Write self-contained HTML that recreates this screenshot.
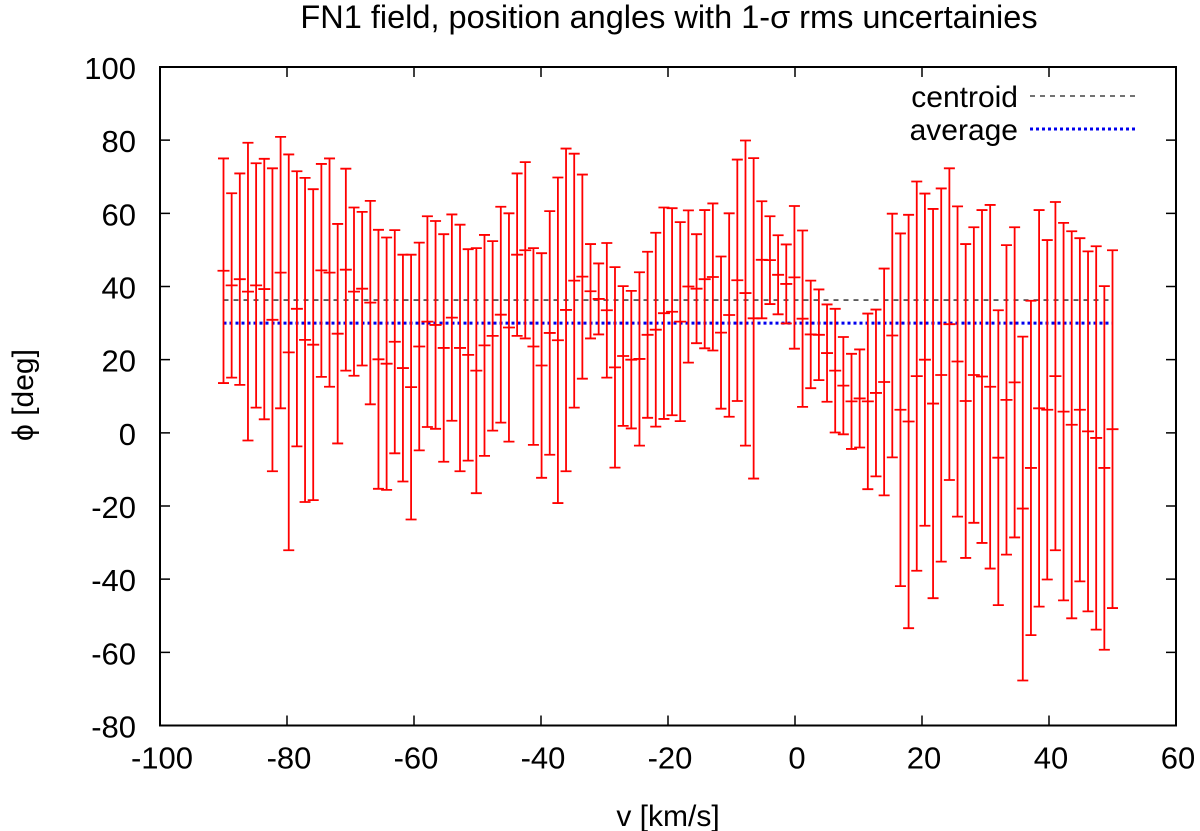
<!DOCTYPE html>
<html><head><meta charset="utf-8">
<style>
html,body{margin:0;padding:0;background:#fff;}
svg{display:block;font-family:"Liberation Sans",sans-serif;}
</style></head>
<body>
<svg id="chart" width="1200" height="831" viewBox="0 0 1200 831" xmlns="http://www.w3.org/2000/svg">
<text x="669" y="28" font-size="32.5" text-anchor="middle">FN1 field, position angles with 1-σ rms uncertainies</text>
<text x="668" y="826" font-size="30" text-anchor="middle">v [km/s]</text>
<text transform="translate(33,395) rotate(-90)" font-size="30" text-anchor="middle">ϕ [deg]</text>
<g id="axes"></g>
<g id="refs"></g>
<g id="bars"></g>
<g id="legend">
<text x="1018" y="107" font-size="30" text-anchor="end">centroid</text>
<line x1="1030" y1="96" x2="1137" y2="96" stroke="#444" stroke-width="1.6" stroke-dasharray="5,5"/>
<text x="1018" y="140" font-size="30" text-anchor="end">average</text>
<line x1="1030" y1="129" x2="1137" y2="129" stroke="#0000ee" stroke-width="3" stroke-dasharray="3,3"/>
</g>
</svg>
<script>
const xTicks = [-100,-80,-60,-40,-20,0,20,40,60];
const yTicks = [100,80,60,40,20,0,-20,-40,-60,-80];
const vStart = -90, vEnd = 50;
const phi = [44.3,40.3,42.0,38.6,40.3,39.3,30.9,43.8,22.0,33.9,25.4,24.1,44.4,43.8,27.1,44.6,38.6,39.4,35.6,20.1,18.9,24.9,17.7,12.5,23.6,30.4,29.5,
23.2,31.5,23.2,21.3,17.0,23.9,26.5,32.3,28.8,48.7,49.9,23.6,18.4,27.3,25.3,33.6,41.6,42.7,38.7,36.6,33.5,17.9,21.0,20.0,20.2,26.8,28.2,
32.7,33.1,30.4,40.0,39.4,42.0,42.6,27.4,32.2,41.7,38.2,31.3,47.3,47.2,43.2,40.7,42.5,31.2,26.9,26.8,21.8,17.0,12.9,8.6,9.4,8.6,
10.9,13.9,26.6,6.3,3.1,15.5,20.0,8.0,15.8,29.7,19.5,8.7,15.8,15.4,12.6,-6.8,9.0,13.8,-20.7,-9.6,6.7,6.3,15.5,5.8,2.2,6.3,0.4,-1.4,-9.6,1.0];
const sigma = [30.7,25.2,28.9,40.7,33.4,35.6,41.4,37.1,54.1,37.6,44.3,42.5,29.1,31.2,30.0,27.6,23.0,21.0,27.8,35.4,34.5,30.5,31.0,36.2,28.4,28.8,28.4,
31.1,28.2,33.7,28.9,33.5,30.2,25.9,29.5,31.2,22.2,24.1,26.9,30.7,33.3,44.5,44.1,34.7,27.9,12.9,9.7,18.4,27.4,19.1,18.8,23.7,22.7,26.5,
28.9,28.3,27.2,20.8,14.9,18.9,20.1,20.8,27.8,33.0,41.7,43.8,16.0,12.0,10.8,10.8,19.5,24.1,14.7,12.4,13.3,16.9,13.3,13.0,13.4,24.0,
22.8,31.0,33.3,48.2,56.5,53.2,45.4,53.2,51.0,42.6,42.4,42.9,40.4,45.5,49.7,40.3,42.3,42.4,47.0,45.7,54.2,46.4,47.6,51.6,52.9,46.9,49.2,52.4,49.7,48.9];
const centroid = [36.3];
const average = [30.0];

const NS = "http://www.w3.org/2000/svg";
const L = 160, R = 1176, T = 67, B = 725.5;
const xs = v => L + (v - (-100)) / 160 * (R - L);
const ys = p => B - (p - (-80)) / 180 * (B - T);
function mk(tag, attrs, parent){
  const e = document.createElementNS(NS, tag);
  for (const k in attrs) e.setAttribute(k, attrs[k]);
  parent.appendChild(e); return e;
}
const axes = document.getElementById('axes');
const frame = mk('rect', {x:L, y:T, width:R-L, height:B-T, fill:'none', stroke:'#000', 'stroke-width':2}, axes);


xTicks.forEach(t => {
  const x = xs(t);
  const tk = mk('path', {d:`M${x},${B}V${B-10}M${x},${T}V${T+10}`, stroke:'#000', 'stroke-width':1.5}, axes);
  
  
  const lb = mk('text', {x:x+2, y:B+43, 'font-size':31, 'text-anchor':'middle'}, axes);
  lb.textContent = t;
  
  
});
yTicks.forEach(t => {
  const y = ys(t);
  const tk = mk('path', {d:`M${L},${y}H${L+10}M${R},${y}H${R-10}`, stroke:'#000', 'stroke-width':1.5}, axes);
  
  
  const lb = mk('text', {x:L-24, y:y+12, 'font-size':31, 'text-anchor':'end'}, axes);
  lb.textContent = t;
  
  
});
const refs = document.getElementById('refs');
const cl = mk('line', {x1:xs(vStart), x2:xs(vEnd), y1:ys(centroid[0]), y2:ys(centroid[0]), stroke:'#444', 'stroke-width':1.6, 'stroke-dasharray':'5,5'}, refs);


const al = mk('line', {x1:xs(vStart), x2:xs(vEnd), y1:ys(average[0]), y2:ys(average[0]), stroke:'#0000ee', 'stroke-width':3, 'stroke-dasharray':'3,3'}, refs);


const bars = document.getElementById('bars');
const n = phi.length;
for (let i = 0; i < n; i++) {
  const v = vStart + (vEnd - vStart) * i / (n - 1);
  const x = xs(v), yc = ys(phi[i]), yt = ys(phi[i] + sigma[i]), yb = ys(phi[i] - sigma[i]);
  const p = mk('path', {d:`M${x},${yt}V${yb}M${x-5.5},${yt}H${x+5.5}M${x-5.5},${yb}H${x+5.5}M${x-6},${yc}H${x+6}`, stroke:'#ff0000', 'stroke-width':1.8, fill:'none'}, bars);
  
  
}
</script>
</body></html>
